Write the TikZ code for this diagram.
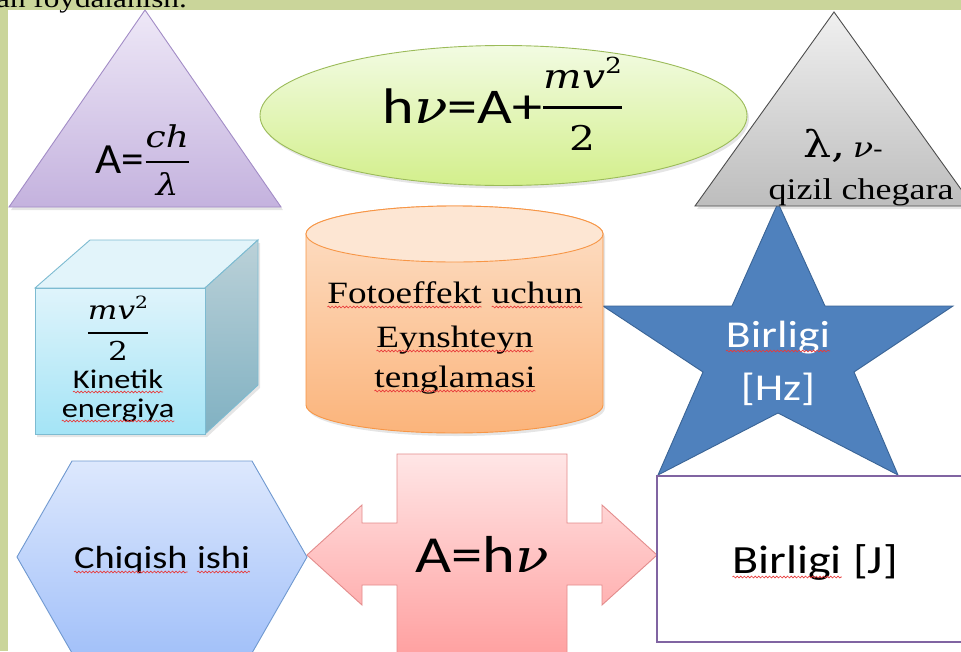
\RequirePackage{fix-cm}
\documentclass[tikz,border=0pt]{standalone}
\usepackage{amsmath}
\usepackage{fontspec}
\setmainfont{Liberation Serif}
\newfontfamily\calfont{Carlito}
\newfontfamily\mfont{DejaVu Serif}
\usepackage{graphicx}
\usetikzlibrary{decorations.pathmorphing}
\newcommand\sq[1]{\tikz[baseline=(w.base)]{\node[inner sep=0pt,outer sep=0pt,anchor=base](w){#1};\draw[squig,line width=0.6pt,decorate,decoration={snake,amplitude=0.9pt,segment length=3pt}] ([yshift=-4pt]w.base west) -- ([yshift=-4pt]w.base east);}}
\newcommand\wide[1]{\scalebox{1.2}[1]{#1}}
\newcommand\fs[1]{\fontsize{#1}{#1}\selectfont}
\newcommand\supr[1]{\raisebox{0.45em}{\scalebox{0.65}{\upshape #1}}}
% #1 num, #2 den, #3 num depth, #4 den height, #5 raise, #6 bar thickness
\newcommand\ffrac[6]{\raisebox{#5}{$\genfrac{}{}{#6}{0}{\hbox{#1\rule[-#3]{0pt}{#3}}}{\hbox{\rule{0pt}{#4}#2}}$}}
\definecolor{squig}{HTML}{E83A3A}
\definecolor{frame}{HTML}{CAD59A}
\definecolor{purptop}{HTML}{EEE8F7}
\definecolor{purpbot}{HTML}{C4B2DE}
\definecolor{purpline}{HTML}{A28CC6}
\definecolor{greentop}{HTML}{F2FBE2}
\definecolor{greenbot}{HTML}{D3EF8C}
\definecolor{greenline}{HTML}{9BBB59}
\definecolor{graytop}{HTML}{F0F0F0}
\definecolor{graybot}{HTML}{BDBDBD}
\definecolor{grayline}{HTML}{4D4D4D}
\definecolor{cubefronttop}{HTML}{DFF4FB}
\definecolor{cubefrontbot}{HTML}{A4E4F6}
\definecolor{cubetop}{HTML}{E2F4FA}
\definecolor{cubesidetop}{HTML}{BBD1D8}
\definecolor{cubesidebot}{HTML}{80B1C2}
\definecolor{cubeline}{HTML}{7DBBD1}
\definecolor{cyltop}{HTML}{FDE0C8}
\definecolor{cylbot}{HTML}{FBB47B}
\definecolor{cylcap}{HTML}{FDE6D3}
\definecolor{cylline}{HTML}{F79646}
\definecolor{starfill}{HTML}{4F81BD}
\definecolor{starline}{HTML}{3A6496}
\definecolor{hextop}{HTML}{DDE8FD}
\definecolor{hexbot}{HTML}{A3C1F9}
\definecolor{hexline}{HTML}{7099D0}
\definecolor{arrtop}{HTML}{FFE6E6}
\definecolor{arrbot}{HTML}{FF9E9E}
\definecolor{arrline}{HTML}{E38C8C}
\definecolor{rectline}{HTML}{8064A2}
\tikzset{
  txt/.style={inner sep=0pt, anchor=base, text=black},
  outline/.style={line width=0.9pt, line join=miter},
  shad/.style={fill=black, opacity=0.10, shift={(2pt,-3pt)}},
}
\begin{document}
\begin{tikzpicture}[x=1pt,y=-1pt]
\useasboundingbox (0,0) rectangle (961,651);
\clip (0,0) rectangle (961,651);
\fill[white] (0,0) rectangle (961,651);
\fill[frame] (0,0) rectangle (961,10);
\fill[frame] (0,0) rectangle (8,651);
\node[txt, anchor=base east] (head) at (187,7) {\wide{\fs{26}dan foydalanish.}};

% soft shadows
\path[shad] (145,10) -- (281,207) -- (9,207) -- cycle;
\path[shad] (503.5,115.5) ellipse [x radius=243.5pt, y radius=70pt];
\path[shad] (834,12) -- (973,206) -- (695,206) -- cycle;
\path[shad] (35,288) -- (90,240) -- (258,240) -- (258,385) -- (205,434) -- (35,434) -- cycle;
\path[shad] (306,234) -- (306,405) arc[start angle=180, end angle=360, x radius=148.5pt, y radius=28pt]
  -- (603,234) arc[start angle=0, end angle=180, x radius=148.5pt, y radius=28pt] -- cycle;

% purple triangle
\path[draw=purpline, top color=purptop, bottom color=purpbot, outline]
  (145,10) -- (281,207) -- (9,207) -- cycle;
\node[txt] (aeq) at (143,173) {\scalebox{1.05}[1]{\fs{43}\calfont A=}\wide{\fs{30}\mfont\ffrac{\itshape ch}{\itshape λ}{9.4pt}{27.4pt}{3.5pt}{1.6pt}}};

% green ellipse
\path[draw=greenline, top color=greentop, bottom color=greenbot, outline]
  (503.5,115.5) ellipse [x radius=243.5pt, y radius=70pt];
\node[txt] (einst) at (503,123) {\wide{\fs{50}\calfont h{\mfont\itshape\fs{46}ν}=A+\fs{34}\mfont\ffrac{\itshape mv\supr{2}}{2}{11pt}{35pt}{7pt}{2.2pt}}};

% star (drawn before gray triangle)
\path[draw=starline, fill=starfill, outline]
  (778,203) -- (825,306) -- (953,306) -- (854,372) -- (898,475) -- (778,413)
  -- (658,475) -- (703,372) -- (603,306) -- (732,306) -- cycle;
\node[txt, text=white] (bir1) at (778,347) {\wide{\fs{38}\calfont\sq{Birligi}}};
\node[txt, text=white] (bir2) at (778,400) {\wide{\fs{38}\calfont [Hz]}};

% gray triangle
\path[draw=grayline, top color=graytop, bottom color=graybot, outline]
  (834,12) -- (973,206) -- (695,206) -- cycle;
\node[txt] (lam) at (843,157) {\wide{\mfont\fs{37}λ,\,\fs{28}\itshape ν\upshape\fs{24}-}};
\node[txt] (qiz) at (861,199) {\wide{\fs{30}qizil chegara}};

% cube
\path[draw=cubeline, fill=cubetop, outline] (35,288) -- (90,240) -- (258,240) -- (205,288) -- cycle;
\path[draw=cubeline, top color=cubesidetop, bottom color=cubesidebot, outline] (205,288) -- (258,240) -- (258,385) -- (205,434) -- cycle;
\path[draw=cubeline, top color=cubefronttop, bottom color=cubefrontbot, outline] (35,288) rectangle (205,434);
\node[txt] (kfrac) at (118,339.5) {\wide{\fs{26}\mfont\ffrac{\itshape mv\supr{2}}{2}{7.8pt}{21.8pt}{0pt}{1.5pt}}};
\node[txt] (kin) at (118,388) {\wide{\fs{27}\calfont\sq{Kinetik}}};
\node[txt] (ene) at (118,417) {\wide{\fs{27}\calfont\sq{energiya}}};

% cylinder
\path[draw=cylline, top color=cyltop, bottom color=cylbot, outline]
  (306,234) -- (306,405) arc[start angle=180, end angle=360, x radius=148.5pt, y radius=28pt]
  -- (603,234) arc[start angle=0, end angle=180, x radius=148.5pt, y radius=28pt] -- cycle;
\path[draw=cylline, fill=cylcap, outline] (454.5,234) ellipse [x radius=148.5pt, y radius=28pt];
\node[txt] (cyl1) at (455,303) {\wide{\fs{31}\sq{Fotoeffekt} \sq{uchun}}};
\node[txt] (cyl2) at (455,347) {\wide{\fs{31}\sq{Eynshteyn}}};
\node[txt] (cyl3) at (455,387) {\wide{\fs{31}\sq{tenglamasi}}};

% hexagon
\path[draw=hexline, top color=hextop, bottom color=hexbot, outline]
  (17,557) -- (72,461) -- (252,461) -- (307,557) -- (252,653) -- (72,653) -- cycle;
\node[txt] (chiq) at (162,568) {\wide{\fs{32}\calfont\sq{Chiqish} \sq{ishi}}};

% double arrow
\path[draw=arrline, top color=arrtop, bottom color=arrbot, outline]
  (307,555) -- (362,505) -- (362,523) -- (397,523) -- (397,454) -- (567,454)
  -- (567,523) -- (602,523) -- (602,505) -- (657,555) -- (602,605) -- (602,585)
  -- (567,585) -- (567,662) -- (397,662) -- (397,585) -- (362,585) -- (362,605) -- cycle;
\node[txt] (ahnu) at (482,572) {\wide{\fs{52}\calfont A=h{\mfont\itshape\fs{46}ν}}};

% rectangle
\path[draw=rectline, fill=white, line width=2pt] (657,476) rectangle (985,642);
\node[txt] (birj) at (815,573) {\wide{\fs{40}\calfont\sq{Birligi} [J]}};
\end{tikzpicture}
\end{document}
